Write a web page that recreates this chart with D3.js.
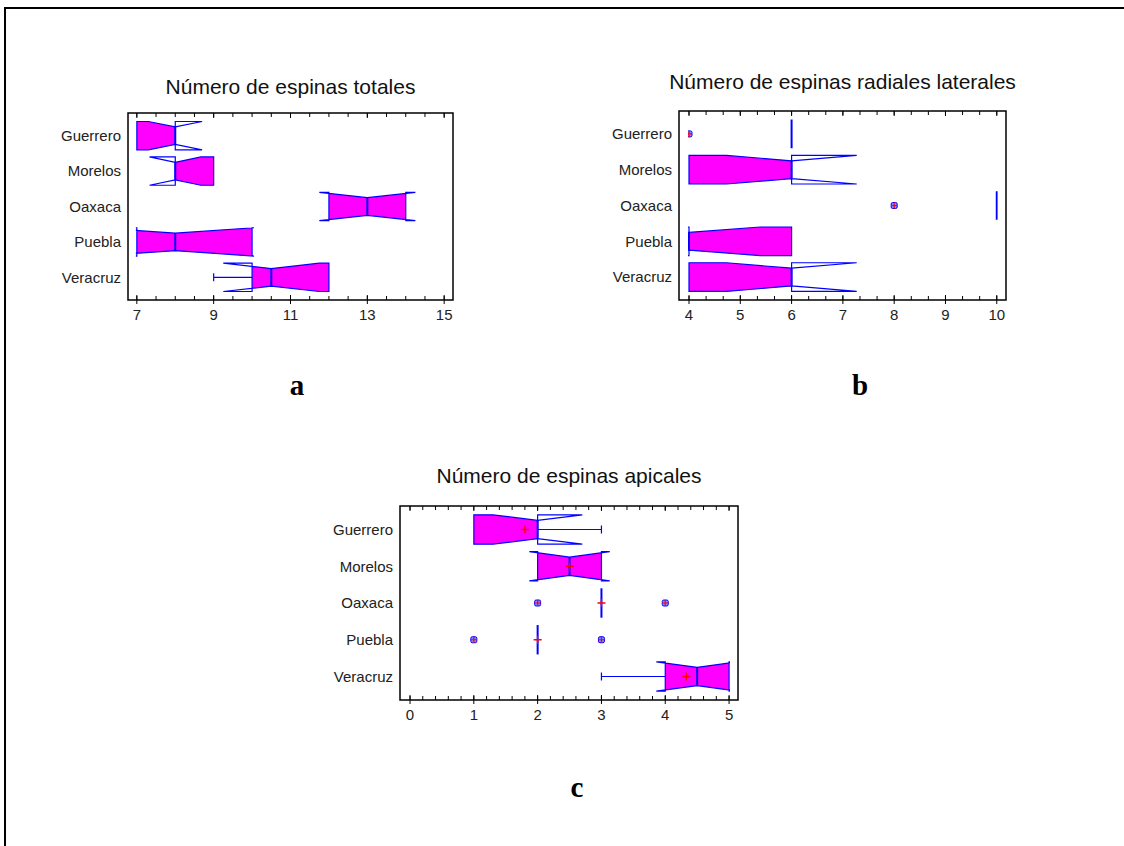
<!DOCTYPE html>
<html>
<head>
<meta charset="utf-8">
<script src="https://cdn.jsdelivr.net/npm/d3@7"></script>
<style>
  body { margin: 0; background: #fff; }
  svg { display: block; }
</style>
</head>
<body>
<script>
// categories (same for the three panels)
const regions = ["Guerrero", "Morelos", "Oaxaca", "Puebla", "Veracruz"];

// a - total spines
const totQ1 = [7, 8, 12, 7, 10];
const totMed = [8, 8, 13, 8, 10.5];
const totQ3 = [8, 9, 14, 10, 12];
const totMin = [7, 8, 12, 7, 9];
const totMax = [8, 9, 14, 10, 12];
const totNotch = [0.7, 0.67, 1.25, 2.05, 1.25];
const totMean = [null, null, null, null, null];
const totOut = [[], [], [], [], []];
const totTicks = [7, 9, 11, 13, 15];

// b - lateral radial spines
const latQ1 = [6, 4, 10, 4, 4];
const latMed = [6, 6, 10, 4, 6];
const latQ3 = [6, 6, 10, 6, 6];
const latMin = [6, 4, 10, 4, 4];
const latMax = [6, 6, 10, 6, 6];
const latNotch = [0, 1.27, 0, 1.39, 1.27];
const latMean = [null, null, null, null, null];
const latOut = [[4], [], [8], [], []];
const latTicks = [4, 5, 6, 7, 8, 9, 10];

// c - apical spines
const apiQ1 = [1, 2, 3, 2, 4];
const apiMed = [2, 2.5, 3, 2, 4.5];
const apiQ3 = [2, 3, 3, 2, 5];
const apiMin = [1, 2, 3, 2, 3];
const apiMax = [3, 3, 3, 2, 5];
const apiNotch = [0.7, 0.63, 0, 0, 0.64];
const apiMean = [1.8, 2.5, 3, 2, 4.33];
const apiOut = [[], [], [2, 4], [1, 3], []];
const apiTicks = [0, 1, 2, 3, 4, 5];

const width = 1124, height = 846;
const sans = "'Liberation Sans', Arial, sans-serif";
const boxFill = "#ff00ff", boxStroke = "#0000ff";

const svg = d3.select("body").append("svg")
    .attr("width", width)
    .attr("height", height);

// outer page frame (top + left only)
svg.append("path")
    .attr("d", "M5,846V8H1124")
    .attr("fill", "none")
    .attr("stroke", "#000")
    .attr("stroke-width", 2);

function rows(q1, med, q3, lo, hi, notch, mean, out) {
    return regions.map((r, i) => ({
        name: r, q1: q1[i], med: med[i], q3: q3[i], lo: lo[i], hi: hi[i],
        w: notch[i], mean: mean[i], out: out[i]
    }));
}

const panels = [
    { id: "a", title: "Número de espinas totales", letter: "a",
      left: 128, right: 453, top: 113, bottom: 300, titleY: 94, letterX: 297, letterY: 395,
      domain: [6.77, 15.23], sub: 2, ticks: totTicks,
      data: rows(totQ1, totMed, totQ3, totMin, totMax, totNotch, totMean, totOut) },
    { id: "b", title: "Número de espinas radiales laterales", letter: "b",
      left: 679, right: 1006, top: 111, bottom: 300, titleY: 89, letterX: 860, letterY: 395,
      domain: [3.805, 10.18], sub: 3, ticks: latTicks,
      data: rows(latQ1, latMed, latQ3, latMin, latMax, latNotch, latMean, latOut) },
    { id: "c", title: "Número de espinas apicales", letter: "c",
      left: 400, right: 738, top: 506, bottom: 700, titleY: 483, letterX: 577, letterY: 797,
      domain: [-0.157, 5.14], sub: 5, ticks: apiTicks,
      data: rows(apiQ1, apiMed, apiQ3, apiMin, apiMax, apiNotch, apiMean, apiOut) }
];

panels.forEach(drawPanel);

function drawPanel(p) {
    const x = d3.scaleLinear().domain(p.domain).range([p.left, p.right]);
    const y = d3.scalePoint().domain(regions).range([p.top, p.bottom]).padding(0.64);
    const bh = y.step() * 0.8;
    const ind = bh * 0.19;

    const g = svg.append("g");

    // boxes are cut at the first and last labelled value
    const x0 = x(p.ticks[0]) - 1, x1 = x(p.ticks[p.ticks.length - 1]) + 1;
    g.append("clipPath").attr("id", "frame-" + p.id)
        .append("rect")
        .attr("x", x0).attr("y", p.top)
        .attr("width", x1 - x0).attr("height", p.bottom - p.top);

    g.append("text")
        .attr("x", (p.left + p.right) / 2)
        .attr("y", p.titleY)
        .attr("text-anchor", "middle")
        .attr("font-family", sans)
        .attr("font-size", 21)
        .attr("fill", "#111")
        .text(p.title);

    // minor + major ticks, inward on top and bottom
    const minor = d3.range(Math.ceil(p.domain[0] * p.sub), Math.floor(p.domain[1] * p.sub) + 1)
        .map(i => i / p.sub);
    const tg = g.append("g").attr("stroke", "#000").attr("stroke-width", 1);
    tg.selectAll(".mt").data(minor).join("path")
        .attr("d", d => `M${x(d)},${p.top}v4M${x(d)},${p.bottom}v-4`);
    tg.selectAll(".Mt").data(p.ticks).join("path")
        .attr("d", d => `M${x(d)},${p.top}v5M${x(d)},${p.bottom + 4}v-9`);

    g.selectAll(".tl").data(p.ticks).join("text")
        .attr("x", d => x(d))
        .attr("y", p.bottom + 15)
        .attr("dy", "0.35em")
        .attr("text-anchor", "middle")
        .attr("font-family", sans)
        .attr("font-size", 15)
        .attr("fill", "#222")
        .text(d => d);

    g.selectAll(".cl").data(regions).join("text")
        .attr("x", p.left - 7)
        .attr("y", d => y(d))
        .attr("dy", "0.35em")
        .attr("text-anchor", "end")
        .attr("font-family", sans)
        .attr("font-size", 15)
        .attr("fill", "#222")
        .text(d => d);

    const plot = g.append("g").attr("clip-path", `url(#frame-${p.id})`);

    p.data.forEach((d, i) => {
        const cy = y(d.name);
        const t = cy - bh / 2, b = cy + bh / 2;

        // whiskers
        [[d.lo, d.q1], [d.hi, d.q3]].forEach(([end, edge]) => {
            if (end === edge) return;
            plot.append("path")
                .attr("d", `M${x(edge)},${cy}H${x(end)}M${x(end)},${cy - 4}V${cy + 4}`)
                .attr("fill", "none")
                .attr("stroke", boxStroke)
                .attr("stroke-width", 1.2);
        });

        if (d.q1 === d.q3) {
            // collapsed box: one vertical bar
            plot.append("line")
                .attr("x1", x(d.med)).attr("x2", x(d.med))
                .attr("y1", t).attr("y2", b)
                .attr("stroke", boxStroke)
                .attr("stroke-width", 2);
        } else {
            const pts = [
                [d.q1, t], [d.med - d.w, t], [d.med, t + ind], [d.med + d.w, t], [d.q3, t],
                [d.q3, b], [d.med + d.w, b], [d.med, b - ind], [d.med - d.w, b], [d.q1, b]
            ];
            const path = "M" + pts.map(q => `${x(q[0])},${q[1]}`).join("L") + "Z";
            const cid = `box-${p.id}-${i}`;
            plot.append("clipPath").attr("id", cid)
                .append("rect")
                .attr("x", x(d.q1)).attr("y", t - 1)
                .attr("width", x(d.q3) - x(d.q1)).attr("height", bh + 2);
            plot.append("path")
                .attr("d", path)
                .attr("fill", boxFill)
                .attr("fill-rule", "evenodd")
                .attr("clip-path", `url(#${cid})`);
            plot.append("path")
                .attr("d", path)
                .attr("fill", "none")
                .attr("stroke", boxStroke)
                .attr("stroke-width", 1.2)
                .attr("stroke-linejoin", "miter");
            plot.append("line")
                .attr("x1", x(d.med)).attr("x2", x(d.med))
                .attr("y1", t + ind).attr("y2", b - ind)
                .attr("stroke", boxStroke)
                .attr("stroke-width", 2);
        }

        // outside points
        d.out.forEach(v => {
            plot.append("rect")
                .attr("x", x(v) - 3).attr("y", cy - 3)
                .attr("width", 6).attr("height", 6)
                .attr("rx", 1.5)
                .attr("fill", "#8a8aff")
                .attr("stroke", boxStroke)
                .attr("stroke-width", 1);
            plot.append("path")
                .attr("d", `M${x(v) - 3},${cy}h6M${x(v)},${cy - 3}v6`)
                .attr("stroke", "#ff0000")
                .attr("stroke-width", 1.2);
        });

        if (d.mean != null) {
            plot.append("path")
                .attr("d", `M${x(d.mean) - 4},${cy}h8M${x(d.mean)},${cy - 4}v8`)
                .attr("stroke", "#ff0000")
                .attr("stroke-width", 1.3);
        }
    });

    g.append("rect")
        .attr("x", p.left).attr("y", p.top)
        .attr("width", p.right - p.left).attr("height", p.bottom - p.top)
        .attr("fill", "none")
        .attr("stroke", "#000")
        .attr("stroke-width", 1.5);

    g.append("text")
        .attr("x", p.letterX)
        .attr("y", p.letterY)
        .attr("text-anchor", "middle")
        .attr("font-family", "'Liberation Serif', 'Times New Roman', serif")
        .attr("font-weight", "bold")
        .attr("font-size", 29)
        .attr("fill", "#000")
        .text(p.letter);
}
</script>
</body>
</html>
